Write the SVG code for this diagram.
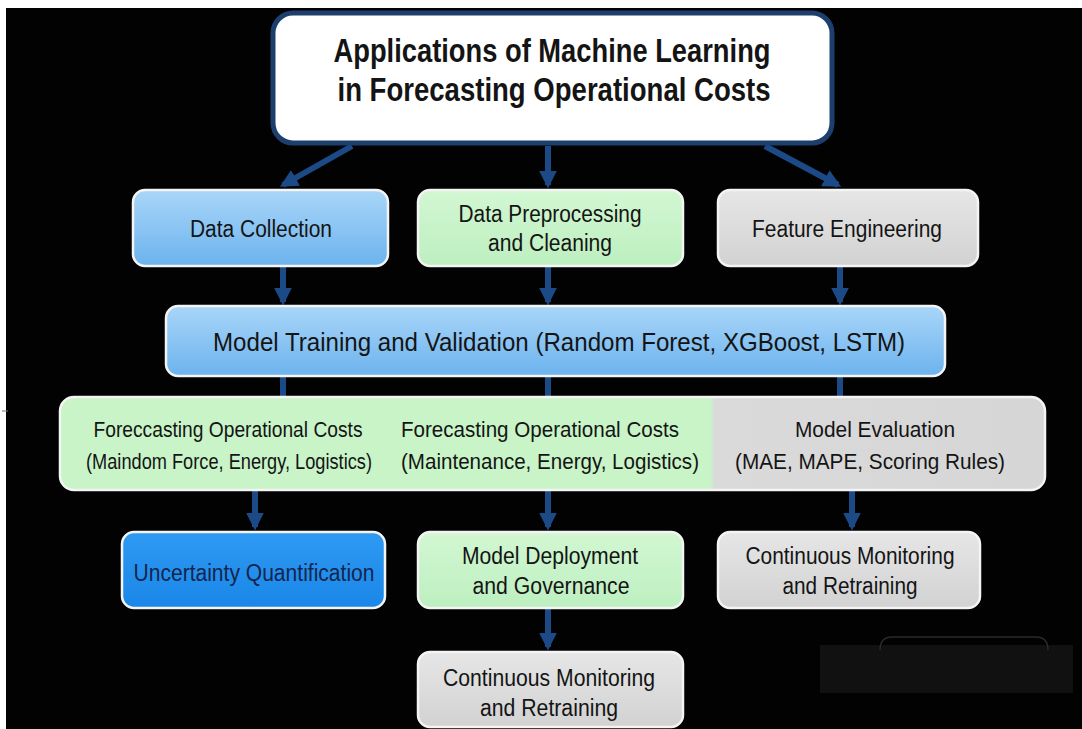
<svg xmlns="http://www.w3.org/2000/svg" width="1082" height="729" viewBox="0 0 1082 729">
<defs>
<linearGradient id="gBlue" x1="0" y1="0" x2="0" y2="1"><stop offset="0" stop-color="#a9d6f8"/><stop offset="1" stop-color="#6cb3ee"/></linearGradient>
<linearGradient id="gBright" x1="0" y1="0" x2="0" y2="1"><stop offset="0" stop-color="#2e9af2"/><stop offset="1" stop-color="#1a86e8"/></linearGradient>
<linearGradient id="gGreen" x1="0" y1="0" x2="0" y2="1"><stop offset="0" stop-color="#d2f7d2"/><stop offset="1" stop-color="#bdefc0"/></linearGradient>
<linearGradient id="gGrey" x1="0" y1="0" x2="0" y2="1"><stop offset="0" stop-color="#e6e6e6"/><stop offset="1" stop-color="#d2d2d2"/></linearGradient>
<linearGradient id="gRow3" x1="0" y1="0" x2="1" y2="0"><stop offset="0" stop-color="#c8f4c8"/><stop offset="0.66" stop-color="#c8f4c8"/><stop offset="0.665" stop-color="#dadada"/><stop offset="1" stop-color="#d6d6d6"/></linearGradient>
<marker id="ah" viewBox="0 0 10 10" refX="8" refY="5" markerWidth="3" markerHeight="3" orient="auto" markerUnits="strokeWidth"><path d="M0,0 L10,5 L0,10 z" fill="#1c4a86"/></marker>
</defs>
<style>
.box{stroke:#f4f4f4;stroke-width:2.5}
.t{font-family:"Liberation Sans",Arial,sans-serif;fill:#141414;text-anchor:middle}
.n{font-size:23px}
.r{font-size:22px}
.c{stroke:#1c4a86;stroke-width:6;fill:none;marker-end:url(#ah)}
</style>
<rect x="0" y="0" width="1082" height="729" fill="#ffffff"/>
<rect x="6" y="8" width="1076" height="721" fill="#020202"/>
<line x1="2" y1="411" x2="8" y2="411" stroke="#777" stroke-width="1"/>
<g id="connectors">
<line class="c" x1="352" y1="146" x2="283" y2="185"/>
<line class="c" x1="548" y1="146" x2="548" y2="185"/>
<line class="c" x1="765" y1="146" x2="838" y2="185"/>
<line class="c" x1="283" y1="266" x2="283" y2="302"/>
<line class="c" x1="548" y1="266" x2="548" y2="302"/>
<line class="c" x1="840" y1="266" x2="840" y2="302"/>
<line x1="283" y1="376" x2="283" y2="398" stroke="#1c4a86" stroke-width="6"/>
<line x1="548" y1="376" x2="548" y2="398" stroke="#1c4a86" stroke-width="6"/>
<line x1="840" y1="376" x2="840" y2="398" stroke="#1c4a86" stroke-width="6"/>
<line class="c" x1="255" y1="490" x2="255" y2="527"/>
<line class="c" x1="548" y1="490" x2="548" y2="527"/>
<line class="c" x1="852" y1="490" x2="852" y2="527"/>
<line class="c" x1="548" y1="608" x2="548" y2="647"/>
</g>
<g id="title">
<rect x="273" y="13" width="559" height="130" rx="20" fill="#ffffff" stroke="#1d3f6e" stroke-width="5"/>
<text class="t" x="552" y="62" font-size="33" font-weight="bold" textLength="437" lengthAdjust="spacingAndGlyphs">Applications of Machine Learning</text>
<text class="t" x="554" y="101" font-size="33" font-weight="bold" textLength="433" lengthAdjust="spacingAndGlyphs">in Forecasting Operational Costs</text>
</g>
<g id="data-collection">
<rect class="box" x="133" y="190" width="255" height="76" rx="12" fill="url(#gBlue)"/>
<text class="t n" x="261" y="237" textLength="142" lengthAdjust="spacingAndGlyphs">Data Collection</text>
</g>
<g id="data-preprocessing">
<rect class="box" x="418" y="190" width="265" height="76" rx="12" fill="url(#gGreen)"/>
<text class="t n" x="550" y="222" textLength="183" lengthAdjust="spacingAndGlyphs">Data Preprocessing</text>
<text class="t n" x="550" y="251" textLength="124" lengthAdjust="spacingAndGlyphs">and Cleaning</text>
</g>
<g id="feature-engineering">
<rect class="box" x="718" y="190" width="260" height="76" rx="12" fill="url(#gGrey)"/>
<text class="t n" x="847" y="237" textLength="190" lengthAdjust="spacingAndGlyphs">Feature Engineering</text>
</g>
<g id="model-training">
<rect class="box" x="166" y="306" width="779" height="70" rx="12" fill="url(#gBlue)"/>
<text class="t" x="559" y="351" font-size="26" textLength="692" lengthAdjust="spacingAndGlyphs">Model Training and Validation (Random Forest, XGBoost, LSTM)</text>
</g>
<g id="forecast-row">
<rect class="box" x="60" y="397" width="985" height="93" rx="14" fill="url(#gRow3)"/>
<text class="t r" x="228" y="437" textLength="269" lengthAdjust="spacingAndGlyphs">Foreccasting Operational Costs</text>
<text class="t r" x="229" y="469" textLength="286" lengthAdjust="spacingAndGlyphs">(Maindom Force, Energy, Logistics)</text>
<text class="t r" x="540" y="437" textLength="278" lengthAdjust="spacingAndGlyphs">Forecasting Operational Costs</text>
<text class="t r" x="550" y="469" textLength="298" lengthAdjust="spacingAndGlyphs">(Maintenance, Energy, Logistics)</text>
<text class="t r" x="875" y="437" textLength="160" lengthAdjust="spacingAndGlyphs">Model Evaluation</text>
<text class="t r" x="870" y="469" textLength="270" lengthAdjust="spacingAndGlyphs">(MAE, MAPE, Scoring Rules)</text>
</g>
<g id="uncertainty">
<rect class="box" x="122" y="532" width="263" height="76" rx="12" fill="url(#gBright)"/>
<text class="t n" x="254" y="581" style="fill:#14254d" textLength="241" lengthAdjust="spacingAndGlyphs">Uncertainty Quantification</text>
</g>
<g id="deployment">
<rect class="box" x="418" y="532" width="265" height="76" rx="12" fill="url(#gGreen)"/>
<text class="t n" x="550" y="564" textLength="176" lengthAdjust="spacingAndGlyphs">Model Deployment</text>
<text class="t n" x="551" y="594" textLength="157" lengthAdjust="spacingAndGlyphs">and Governance</text>
</g>
<g id="monitoring-right">
<rect class="box" x="718" y="532" width="262" height="76" rx="12" fill="url(#gGrey)"/>
<text class="t n" x="850" y="564" textLength="209" lengthAdjust="spacingAndGlyphs">Continuous Monitoring</text>
<text class="t n" x="850" y="594" textLength="135" lengthAdjust="spacingAndGlyphs">and Retraining</text>
</g>
<g id="monitoring-bottom">
<rect class="box" x="418" y="652" width="265" height="75" rx="12" fill="url(#gGrey)"/>
<text class="t n" x="549" y="686" textLength="212" lengthAdjust="spacingAndGlyphs">Continuous Monitoring</text>
<text class="t n" x="549" y="716" textLength="138" lengthAdjust="spacingAndGlyphs">and Retraining</text>
</g>
<g id="artifact">
<rect x="820" y="645" width="253" height="48" fill="#111111"/>
<path d="M880,650 Q880,637 892,637 L1036,637 Q1048,637 1048,650" fill="none" stroke="#2a2a2a" stroke-width="1.5"/>
</g>
</svg>
